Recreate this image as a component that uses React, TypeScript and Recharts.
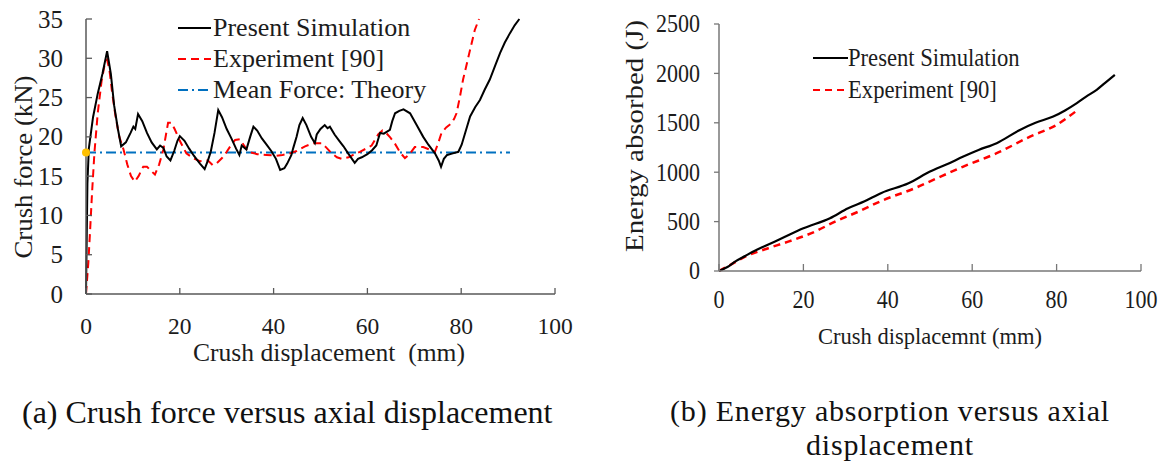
import React from 'react';
import { LineChart, Line, XAxis, YAxis, Legend, ReferenceDot } from 'recharts';

const FONT = "'Liberation Serif', 'Times New Roman', serif";

// ---------- (a) Crush force versus axial displacement ----------
const forceXTicks = [0, 20, 40, 60, 80, 100];
const forceYTicks = [0, 5, 10, 15, 20, 25, 30, 35];

const simForce = [
  { x: 0, y: 0 }, { x: 0.3, y: 14 }, { x: 0.6, y: 18.5 }, { x: 1.5, y: 22.5 }, { x: 2.5, y: 25.5 },
  { x: 3.5, y: 28 }, { x: 4.5, y: 30.9 }, { x: 5.3, y: 28 }, { x: 6, y: 24 }, { x: 6.8, y: 21 },
  { x: 7.5, y: 18.8 }, { x: 8.5, y: 19.3 }, { x: 9.5, y: 20.5 }, { x: 10.1, y: 21.3 }, { x: 10.5, y: 21 },
  { x: 11.1, y: 22.9 }, { x: 12, y: 22 }, { x: 13, y: 20.5 }, { x: 14, y: 19.3 }, { x: 15.1, y: 18.4 },
  { x: 15.8, y: 18.9 }, { x: 16.5, y: 18.6 }, { x: 17.2, y: 17.5 }, { x: 18, y: 17.0 }, { x: 18.8, y: 18.2 },
  { x: 19.5, y: 19.5 }, { x: 20, y: 20.1 }, { x: 21, y: 19.5 }, { x: 22, y: 18.5 }, { x: 23, y: 17.6 },
  { x: 24.3, y: 16.6 }, { x: 25.3, y: 15.9 }, { x: 26, y: 17 }, { x: 26.6, y: 18.1 }, { x: 27.4, y: 20.5 },
  { x: 28.2, y: 23.4 }, { x: 29, y: 22.5 }, { x: 30, y: 21 }, { x: 31, y: 19.8 }, { x: 32, y: 18.5 },
  { x: 32.7, y: 17.7 }, { x: 33.2, y: 18.9 }, { x: 34.2, y: 18.4 }, { x: 35, y: 20 }, { x: 35.7, y: 21.3 },
  { x: 36.5, y: 20.8 }, { x: 37.5, y: 19.8 }, { x: 38.5, y: 19 }, { x: 39.5, y: 18.2 }, { x: 40.5, y: 17.2 },
  { x: 41.4, y: 15.8 }, { x: 42.3, y: 16 }, { x: 42.9, y: 16.6 }, { x: 43.8, y: 17.7 }, { x: 44.2, y: 18.6 },
  { x: 44.9, y: 20.0 }, { x: 45.5, y: 21.5 }, { x: 46.2, y: 22.4 }, { x: 47, y: 21.5 }, { x: 48, y: 20 },
  { x: 48.8, y: 19.2 }, { x: 49.2, y: 20.3 }, { x: 50, y: 21 }, { x: 50.9, y: 21.5 }, { x: 51.5, y: 21.1 },
  { x: 52, y: 21.3 }, { x: 53, y: 20.3 }, { x: 54, y: 19.5 }, { x: 54.9, y: 18.8 }, { x: 56, y: 17.8 },
  { x: 57.3, y: 16.7 }, { x: 58, y: 17.2 }, { x: 58.8, y: 17.4 }, { x: 60, y: 17.8 }, { x: 61, y: 18.3 },
  { x: 61.9, y: 18.9 }, { x: 62.7, y: 20.5 }, { x: 63.5, y: 20.4 }, { x: 64.8, y: 20.9 }, { x: 65.3, y: 22 },
  { x: 65.9, y: 23.0 }, { x: 66.8, y: 23.3 }, { x: 67.7, y: 23.5 }, { x: 69.1, y: 23.0 }, { x: 70.5, y: 21.5 },
  { x: 71.9, y: 20.0 }, { x: 73, y: 19 }, { x: 74.4, y: 17.9 }, { x: 75.2, y: 17.0 }, { x: 75.7, y: 16.2 },
  { x: 76.3, y: 17.2 }, { x: 77, y: 17.7 }, { x: 78.2, y: 17.9 }, { x: 79.4, y: 18.1 }, { x: 80.1, y: 19.0 },
  { x: 81, y: 20.8 }, { x: 81.9, y: 22.6 }, { x: 83, y: 23.8 }, { x: 84, y: 24.7 }, { x: 85, y: 26 },
  { x: 86.1, y: 27.3 }, { x: 87.2, y: 29 }, { x: 88.3, y: 30.7 }, { x: 89.3, y: 32 }, { x: 90.4, y: 33.2 },
  { x: 91.4, y: 34.2 }, { x: 92.4, y: 35 },
];

const expForce = [
  { x: 0, y: 0 }, { x: 0.5, y: 4 }, { x: 0.85, y: 7.8 }, { x: 1.3, y: 13 }, { x: 1.8, y: 18 },
  { x: 2.5, y: 23 }, { x: 3.3, y: 27 }, { x: 4.0, y: 29.3 }, { x: 4.5, y: 29.8 }, { x: 5.0, y: 28.5 },
  { x: 5.6, y: 25.5 }, { x: 6.3, y: 22.6 }, { x: 7.1, y: 20 }, { x: 8.0, y: 18.4 }, { x: 8.8, y: 16.5 },
  { x: 9.6, y: 15 }, { x: 10.4, y: 14.3 }, { x: 11.2, y: 15 }, { x: 12.2, y: 16.2 }, { x: 13, y: 16.2 },
  { x: 14, y: 15.6 }, { x: 14.7, y: 15.2 }, { x: 15.6, y: 16.5 }, { x: 16.5, y: 18.4 }, { x: 17.5, y: 21.8 },
  { x: 18.2, y: 21.8 }, { x: 18.9, y: 21.0 }, { x: 20, y: 19.5 }, { x: 21.4, y: 17.9 }, { x: 22.8, y: 17.3 },
  { x: 24.3, y: 16.9 }, { x: 26, y: 17 }, { x: 27, y: 16.4 }, { x: 27.8, y: 16.6 }, { x: 29, y: 17.3 },
  { x: 30, y: 18.1 }, { x: 31, y: 19 }, { x: 31.8, y: 19.6 }, { x: 32.8, y: 19.7 }, { x: 33.7, y: 18.9 },
  { x: 34.6, y: 18.1 }, { x: 36.5, y: 17.8 }, { x: 38.5, y: 17.7 }, { x: 40.5, y: 17.6 }, { x: 41.9, y: 17.7 },
  { x: 43.5, y: 17.9 }, { x: 44.9, y: 18.2 }, { x: 46.7, y: 18.8 }, { x: 48.5, y: 19.2 }, { x: 50.2, y: 19.2 },
  { x: 51.3, y: 18.6 }, { x: 52.4, y: 17.9 }, { x: 53.5, y: 17.4 }, { x: 54.5, y: 17.2 }, { x: 56, y: 17.4 },
  { x: 57.3, y: 17.8 }, { x: 58.4, y: 18.1 }, { x: 59.7, y: 18.5 }, { x: 60.9, y: 18.9 }, { x: 62.3, y: 20.3 },
  { x: 63.2, y: 20.8 }, { x: 64, y: 20.5 }, { x: 64.9, y: 19.9 }, { x: 65.9, y: 19.1 }, { x: 67, y: 18 },
  { x: 68, y: 17.3 }, { x: 69, y: 17.8 }, { x: 70.1, y: 18.7 }, { x: 71.9, y: 18.7 }, { x: 73.2, y: 18.4 },
  { x: 74.4, y: 18.1 }, { x: 75.1, y: 19.2 }, { x: 75.8, y: 20.5 }, { x: 76.8, y: 21.2 }, { x: 77.9, y: 21.7 },
  { x: 78.5, y: 22.3 }, { x: 79, y: 23.0 }, { x: 79.7, y: 25 }, { x: 80.4, y: 27.3 }, { x: 81.2, y: 29.3 },
  { x: 81.9, y: 31.1 }, { x: 82.9, y: 33.6 }, { x: 83.8, y: 35 },
];

const meanForce = [{ x: 0, y: 18 }, { x: 90.4, y: 18 }];

// ---------- (b) Energy absorption versus axial displacement ----------
const energyXTicks = [0, 20, 40, 60, 80, 100];
const energyYTicks = [0, 500, 1000, 1500, 2000, 2500];

const simEnergy = [
  { x: 0, y: 0 }, { x: 2, y: 40 }, { x: 4, y: 100 }, { x: 6.2, y: 152 }, { x: 8.5, y: 205 },
  { x: 10.9, y: 253 }, { x: 14.9, y: 331 }, { x: 20, y: 432 }, { x: 26.3, y: 534 }, { x: 30.6, y: 635 },
  { x: 34.5, y: 705 }, { x: 38.5, y: 790 }, { x: 44.9, y: 888 }, { x: 50, y: 1006 }, { x: 54, y: 1080 },
  { x: 57.9, y: 1158 }, { x: 61.5, y: 1225 }, { x: 65.8, y: 1294 }, { x: 71.3, y: 1428 }, { x: 75, y: 1500 },
  { x: 79.2, y: 1563 }, { x: 82, y: 1625 }, { x: 84.8, y: 1699 }, { x: 87, y: 1765 }, { x: 89.5, y: 1834 },
  { x: 91.5, y: 1905 }, { x: 93.8, y: 1985 },
];

const expEnergy = [
  { x: 0, y: 0 }, { x: 3, y: 70 }, { x: 6.2, y: 145 }, { x: 10.9, y: 220 }, { x: 16.4, y: 297 },
  { x: 22.7, y: 398 }, { x: 27.5, y: 500 }, { x: 33, y: 600 }, { x: 38.5, y: 710 }, { x: 46.4, y: 838 },
  { x: 51.2, y: 930 }, { x: 57.9, y: 1057 }, { x: 65.8, y: 1192 }, { x: 73.7, y: 1360 }, { x: 80, y: 1479 },
  { x: 84.8, y: 1624 },
];

// ---------- styles ----------
const AXIS_A = '#595959';
const AXIS_B = '#777777';
const TEXT = '#1c1c1c';

const forceSeries = [
  { name: 'Present Simulation', color: '#000000', dash: undefined as string | undefined },
  { name: 'Experiment [90]', color: '#FF0000', dash: '8 5' },
  { name: 'Mean Force: Theory', color: '#0070C0', dash: '10 4 2 4' },
];
const energySeries = [
  { name: 'Present Simulation', color: '#000000', dash: undefined as string | undefined },
  { name: 'Experiment [90]', color: '#FF0000', dash: '7 5' },
];

const LeftYTick = (p: any) => (
  <g>
    <line x1={p.x} y1={p.y} x2={p.x + 6} y2={p.y} stroke={AXIS_A} strokeWidth={1.3} />
    <text x={p.x - 23} y={p.y} textAnchor="end" dominantBaseline="central" fontFamily={FONT} fontSize={25} fill={TEXT}>
      {p.payload.value}
    </text>
  </g>
);

const LeftXTick = (p: any) => (
  <g>
    <line x1={p.x} y1={p.y} x2={p.x} y2={p.y - 6} stroke={AXIS_A} strokeWidth={1.3} />
    <text x={p.x} y={p.y + 32} textAnchor="middle" dominantBaseline="central" fontFamily={FONT} fontSize={23.5} fill={TEXT}>
      {p.payload.value}
    </text>
  </g>
);

const RightYTick = (p: any) => (
  <g>
    <line x1={p.x - 5} y1={p.y} x2={p.x} y2={p.y} stroke={AXIS_B} strokeWidth={1.3} />
    <text
      transform={`translate(${p.x - 19},${p.y}) scale(0.88,1)`}
      textAnchor="end" dominantBaseline="central" fontFamily={FONT} fontSize={25} fill={TEXT}
    >
      {p.payload.value}
    </text>
  </g>
);

const RightXTick = (p: any) => (
  <g>
    <line x1={p.x} y1={p.y} x2={p.x} y2={p.y - 7} stroke={AXIS_B} strokeWidth={1.3} />
    <text
      transform={`translate(${p.x},${p.y + 29}) scale(0.88,1)`}
      textAnchor="middle" dominantBaseline="central" fontFamily={FONT} fontSize={25} fill={TEXT}
    >
      {p.payload.value}
    </text>
  </g>
);

const ForceLegend = () => (
  <div style={{ fontFamily: FONT, color: TEXT }}>
    {forceSeries.map((s) => (
      <div key={s.name} style={{ display: 'flex', alignItems: 'center', height: 31 }}>
        <svg width={33} height={10} style={{ display: 'block' }}>
          <line x1={0} y1={5} x2={33} y2={5} stroke={s.color} strokeWidth={2} strokeDasharray={s.dash} />
        </svg>
        <span style={{ fontSize: 26, lineHeight: '31px', marginLeft: 2, whiteSpace: 'nowrap' }}>{s.name}</span>
      </div>
    ))}
  </div>
);

const EnergyLegend = () => (
  <div style={{ fontFamily: FONT, color: TEXT }}>
    {energySeries.map((s) => (
      <div key={s.name} style={{ display: 'flex', alignItems: 'center', height: 32 }}>
        <svg width={35} height={10} style={{ display: 'block' }}>
          <line x1={0} y1={5} x2={35} y2={5} stroke={s.color} strokeWidth={2.2} strokeDasharray={s.dash} />
        </svg>
        <span
          style={{
            fontSize: 25, lineHeight: '32px', whiteSpace: 'nowrap', display: 'inline-block',
            transform: 'scaleX(0.905)', transformOrigin: 'left center',
          }}
        >
          {s.name}
        </span>
      </div>
    ))}
  </div>
);

const ForceXTitle = () => (
  <text x={329} y={361} textAnchor="middle" fontFamily={FONT} fontSize={25} fill={TEXT}
    textLength={272} lengthAdjust="spacingAndGlyphs" style={{ whiteSpace: 'pre' }}>
    {'Crush displacement  (mm)'}
  </text>
);

const ForceYTitle = () => (
  <text x={23} y={167} transform="rotate(-90, 23, 167)" textAnchor="middle" dominantBaseline="central"
    fontFamily={FONT} fontSize={26} fill={TEXT} textLength={183} lengthAdjust="spacingAndGlyphs">
    Crush force (kN)
  </text>
);

const EnergyXTitle = () => (
  <text x={330} y={344} textAnchor="middle" fontFamily={FONT} fontSize={24} fill={TEXT}
    textLength={224} lengthAdjust="spacingAndGlyphs">
    Crush displacemnt (mm)
  </text>
);

const EnergyYTitle = () => (
  <text x={34} y={136} transform="rotate(-90, 34, 136)" textAnchor="middle" dominantBaseline="central"
    fontFamily={FONT} fontSize={26} fill={TEXT} textLength={232} lengthAdjust="spacingAndGlyphs">
    Energy absorbed (J)
  </text>
);

export default function App() {
  return (
    <div style={{ position: 'absolute', left: 0, top: 0, width: 1167, height: 469, background: '#fff', overflow: 'hidden' }}>
      <div style={{ position: 'absolute', left: 0, top: 0 }}>
        <LineChart width={580} height={370} margin={{ top: 19, right: 25, bottom: 16, left: 0 }}>
          <XAxis
            type="number" dataKey="x" domain={[0, 100]} ticks={forceXTicks} interval={0}
            height={60} tickSize={0} tickMargin={0} tickLine={false}
            axisLine={{ stroke: AXIS_A, strokeWidth: 1.5 }} tick={(p: any) => <LeftXTick {...p} />}
            label={() => <ForceXTitle />}
          />
          <YAxis
            type="number" dataKey="y" domain={[0, 35]} ticks={forceYTicks} interval={0}
            width={86} tickSize={0} tickMargin={0} tickLine={false}
            axisLine={{ stroke: AXIS_A, strokeWidth: 1.5 }} tick={(p: any) => <LeftYTick {...p} />}
            label={() => <ForceYTitle />}
          />
          <Legend
            layout="horizontal" verticalAlign="middle" align="center"
            wrapperStyle={{ position: 'absolute', left: 178, top: 12, width: 270, height: 96 }}
            content={() => <ForceLegend />}
          />
          <Line data={meanForce} dataKey="y" name={forceSeries[2].name} stroke={forceSeries[2].color}
            strokeWidth={2} strokeDasharray={forceSeries[2].dash} dot={false} activeDot={false}
            isAnimationActive={false} type="linear" />
          <Line data={expForce} dataKey="y" name={forceSeries[1].name} stroke={forceSeries[1].color}
            strokeWidth={2} strokeDasharray={forceSeries[1].dash} dot={false} activeDot={false}
            isAnimationActive={false} type="linear" />
          <Line data={simForce} dataKey="y" name={forceSeries[0].name} stroke={forceSeries[0].color}
            strokeWidth={2} dot={false} activeDot={false} isAnimationActive={false} type="linear" />
          <ReferenceDot x={meanForce[0].x} y={meanForce[0].y} r={4} fill="#FFC000" stroke="none" ifOverflow="visible" />
        </LineChart>
      </div>

      <div style={{ position: 'absolute', left: 600, top: 0 }}>
        <LineChart width={567} height={370} margin={{ top: 24, right: 26, bottom: 39, left: 0 }}>
          <XAxis
            type="number" dataKey="x" domain={[0, 100]} ticks={energyXTicks} interval={0}
            height={60} tickSize={0} tickMargin={0} tickLine={false}
            axisLine={{ stroke: AXIS_B, strokeWidth: 1.5 }} tick={(p: any) => <RightXTick {...p} />}
            label={() => <EnergyXTitle />}
          />
          <YAxis
            type="number" dataKey="y" domain={[0, 2500]} ticks={energyYTicks} interval={0}
            width={119} tickSize={0} tickMargin={0} tickLine={false}
            axisLine={{ stroke: AXIS_B, strokeWidth: 1.5 }} tick={(p: any) => <RightYTick {...p} />}
            label={() => <EnergyYTitle />}
          />
          <Legend
            layout="horizontal" verticalAlign="middle" align="center"
            wrapperStyle={{ position: 'absolute', left: 213, top: 42, width: 240, height: 64 }}
            content={() => <EnergyLegend />}
          />
          <Line data={expEnergy} dataKey="y" name={energySeries[1].name} stroke={energySeries[1].color}
            strokeWidth={2.5} strokeDasharray={energySeries[1].dash} dot={false} activeDot={false}
            isAnimationActive={false} type="monotone" />
          <Line data={simEnergy} dataKey="y" name={energySeries[0].name} stroke={energySeries[0].color}
            strokeWidth={2.2} dot={false} activeDot={false} isAnimationActive={false} type="monotone" />
        </LineChart>
      </div>

      <div style={{ position: 'absolute', left: 22, top: 394, fontFamily: FONT, fontSize: 32, lineHeight: '36px', color: '#111', whiteSpace: 'nowrap' }}>
        (a) Crush force versus axial displacement
      </div>
      <div style={{ position: 'absolute', left: 590, top: 394, width: 600, textAlign: 'center', fontFamily: FONT, fontSize: 30, lineHeight: '34px', letterSpacing: '0.8px', color: '#111' }}>
        <div>(b) Energy absorption versus axial</div>
        <div>displacement</div>
      </div>
    </div>
  );
}
